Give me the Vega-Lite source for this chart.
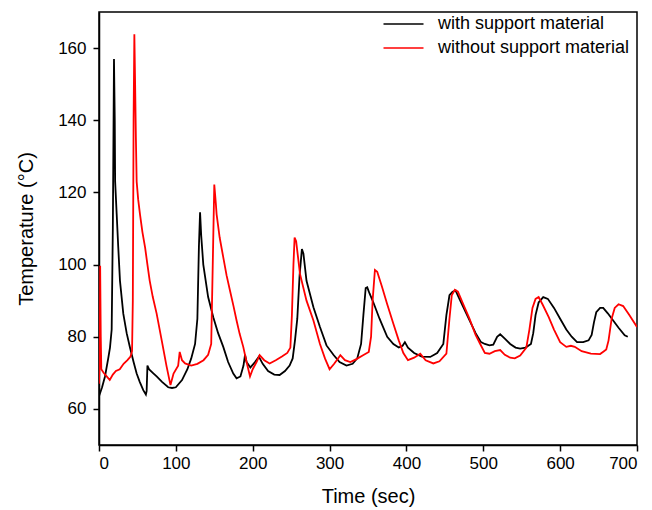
{
  "$schema": "https://vega.github.io/schema/vega-lite/v6.json",
  "width": 538,
  "height": 433,
  "autosize": "none",
  "padding": {"left": 99, "top": 12, "right": 15, "bottom": 65},
  "background": "white",
  "config": {
    "font": "Liberation Sans",
    "view": {"stroke": "black", "strokeWidth": 1.5},
    "axis": {"grid": false, "domainColor": "black", "domainWidth": 1.5, "tickColor": "black", "tickWidth": 1.5, "tickSize": 6, "labelFontSize": 17, "labelColor": "black", "titleFontSize": 20, "titleFontWeight": "normal", "titleColor": "black", "labelFont": "Liberation Sans", "titleFont": "Liberation Sans"}
  },
  "datasets": {
    "with": [
      {"t":0,"T":63.5},{"t":4,"T":66},{"t":7.8,"T":69},{"t":12,"T":74},{"t":14.3,"T":77},{"t":16.5,"T":82},{"t":18,"T":110},{"t":19.5,"T":157},{"t":20.5,"T":140},{"t":21,"T":123},{"t":23,"T":114},{"t":25,"T":105},{"t":27.3,"T":95.5},{"t":31.6,"T":86.4},{"t":36,"T":81},{"t":40.3,"T":77},{"t":45,"T":73},{"t":49,"T":69.8},{"t":53,"T":67.5},{"t":57.6,"T":65.2},{"t":61,"T":64},{"t":62,"T":65},{"t":63,"T":72},{"t":65,"T":71},{"t":70,"T":70},{"t":75,"T":69},{"t":82,"T":67.5},{"t":90,"T":66},{"t":95,"T":65.8},{"t":100,"T":66},{"t":108,"T":68},{"t":115,"T":71},{"t":120,"T":74},{"t":125,"T":78},{"t":128,"T":85},{"t":130,"T":105},{"t":131.5,"T":114.5},{"t":133,"T":108},{"t":135.7,"T":100},{"t":142,"T":91},{"t":148.7,"T":85.4},{"t":155,"T":81},{"t":161.7,"T":77.2},{"t":168,"T":73},{"t":174.7,"T":69.8},{"t":179,"T":68.5},{"t":184,"T":69},{"t":188,"T":72},{"t":190,"T":75},{"t":192,"T":73},{"t":197,"T":71.5},{"t":203,"T":73},{"t":208,"T":74.5},{"t":213,"T":72.5},{"t":220,"T":70.5},{"t":228,"T":69.5},{"t":235,"T":69.4},{"t":242,"T":70.5},{"t":248,"T":72},{"t":252,"T":74},{"t":255,"T":79},{"t":258,"T":85},{"t":261,"T":97},{"t":264,"T":104.3},{"t":266,"T":103},{"t":270,"T":95.5},{"t":279,"T":88.2},{"t":287.5,"T":82.7},{"t":296,"T":77.6},{"t":305,"T":75},{"t":313,"T":73},{"t":322,"T":72},{"t":330,"T":72.5},{"t":336,"T":74},{"t":341,"T":78},{"t":344,"T":86},{"t":347,"T":93.5},{"t":349,"T":93.7},{"t":352,"T":92},{"t":357,"T":89.5},{"t":365,"T":85},{"t":375,"T":80},{"t":383,"T":78},{"t":390,"T":77},{"t":395,"T":77.5},{"t":398,"T":78.5},{"t":402,"T":77},{"t":410,"T":75.5},{"t":420,"T":74.5},{"t":431,"T":74.4},{"t":440,"T":75.5},{"t":448,"T":78},{"t":452,"T":86},{"t":456,"T":91.5},{"t":460,"T":92.5},{"t":464,"T":92.8},{"t":470,"T":90},{"t":480,"T":85.5},{"t":490,"T":81},{"t":497,"T":78.5},{"t":502,"T":78},{"t":508,"T":77.6},{"t":513,"T":77.8},{"t":518,"T":80},{"t":522,"T":80.7},{"t":528,"T":79.5},{"t":535,"T":78},{"t":542,"T":77},{"t":548,"T":76.7},{"t":555,"T":77},{"t":562,"T":78},{"t":565,"T":81},{"t":568,"T":86},{"t":572,"T":89.5},{"t":578,"T":91},{"t":584,"T":90.5},{"t":592,"T":88},{"t":600,"T":85},{"t":608,"T":82},{"t":615,"T":80},{"t":622,"T":78.5},{"t":630,"T":78.5},{"t":637,"T":79},{"t":641,"T":80.5},{"t":644,"T":84},{"t":647,"T":86.8},{"t":652,"T":88},{"t":656,"T":88},{"t":662,"T":86.5},{"t":669,"T":84.5},{"t":676,"T":82.5},{"t":684,"T":80.4},{"t":688,"T":80}
    ],
    "without": [
      {"t":0,"T":67},{"t":1,"T":75},{"t":1.5,"T":99.7},{"t":2.3,"T":80},{"t":3,"T":71},{"t":6,"T":70},{"t":10,"T":69},{"t":14,"T":68},{"t":18,"T":69.5},{"t":22,"T":70.5},{"t":27,"T":71},{"t":32,"T":72.5},{"t":37,"T":73.5},{"t":41,"T":74.5},{"t":43,"T":76},{"t":44,"T":90},{"t":45,"T":140},{"t":46,"T":163.8},{"t":47,"T":150},{"t":48,"T":135},{"t":49,"T":123},{"t":51,"T":118},{"t":53.3,"T":114},{"t":56.5,"T":109},{"t":60,"T":104.7},{"t":63,"T":100},{"t":66,"T":95.5},{"t":70,"T":91},{"t":75,"T":86.4},{"t":81.6,"T":79},{"t":88,"T":71.7},{"t":93,"T":66.6},{"t":97,"T":69.8},{"t":103,"T":72},{"t":105,"T":75.8},{"t":108,"T":73.5},{"t":112,"T":72.6},{"t":120,"T":72},{"t":128,"T":72.5},{"t":136,"T":73.5},{"t":142,"T":75},{"t":146,"T":78},{"t":148,"T":100},{"t":150,"T":122.2},{"t":152,"T":117},{"t":153,"T":114},{"t":157,"T":107.5},{"t":161.7,"T":102},{"t":166,"T":97},{"t":170.4,"T":92.8},{"t":175,"T":88.5},{"t":179,"T":84.5},{"t":183,"T":80.8},{"t":187.7,"T":77.2},{"t":192,"T":73},{"t":196.5,"T":69},{"t":200,"T":71},{"t":205,"T":73},{"t":209,"T":74.9},{"t":215,"T":73.5},{"t":222,"T":72.6},{"t":230,"T":73.5},{"t":238,"T":74.5},{"t":245,"T":75.5},{"t":249,"T":77},{"t":251,"T":86},{"t":253,"T":100},{"t":254.5,"T":107.5},{"t":256.5,"T":106.5},{"t":261.5,"T":97.4},{"t":270,"T":90},{"t":279,"T":84.5},{"t":287.5,"T":78},{"t":294,"T":74},{"t":300,"T":71},{"t":306,"T":72.5},{"t":311,"T":74},{"t":314,"T":74.9},{"t":320,"T":73.5},{"t":327,"T":73},{"t":335,"T":73.8},{"t":343,"T":74.8},{"t":351,"T":75.8},{"t":354,"T":80},{"t":356,"T":90},{"t":359,"T":98.5},{"t":362,"T":98},{"t":368,"T":94},{"t":375,"T":89},{"t":383,"T":83.6},{"t":390,"T":79},{"t":396,"T":75.5},{"t":402,"T":73.5},{"t":410,"T":74.2},{"t":418,"T":75.3},{"t":425,"T":73.5},{"t":435,"T":72.6},{"t":443,"T":73.2},{"t":452,"T":75.3},{"t":456,"T":85},{"t":459,"T":91.5},{"t":463,"T":93},{"t":467,"T":92.5},{"t":474,"T":89},{"t":482,"T":85},{"t":490,"T":80.5},{"t":496,"T":78},{"t":502,"T":75.5},{"t":508,"T":75.3},{"t":515,"T":76},{"t":522,"T":76.3},{"t":528,"T":75},{"t":535,"T":74.2},{"t":541,"T":74},{"t":548,"T":74.8},{"t":556,"T":77},{"t":560,"T":82},{"t":564,"T":88},{"t":568,"T":90.5},{"t":572,"T":91},{"t":577,"T":89},{"t":585,"T":85.5},{"t":592,"T":82},{"t":600,"T":78.5},{"t":608,"T":77.2},{"t":614,"T":77.5},{"t":619,"T":77.2},{"t":628,"T":76},{"t":640,"T":75.3},{"t":652,"T":75.2},{"t":657,"T":76},{"t":660,"T":76.5},{"t":663,"T":79},{"t":667,"T":85},{"t":671,"T":88},{"t":676,"T":89},{"t":682,"T":88.5},{"t":690,"T":86},{"t":700,"T":82.7}
    ]
  },
  "encoding": {
    "x": {"field": "t", "type": "quantitative", "scale": {"domain": [0, 700], "nice": false, "zero": false}, "axis": {"values": [0,100,200,300,400,500,600,700], "title": "Time (sec)", "titlePadding": 15, "labelPadding": 4}},
    "y": {"field": "T", "type": "quantitative", "scale": {"domain": [50, 170], "nice": false, "zero": false}, "axis": {"values": [60,80,100,120,140,160], "title": "Temperature (°C)", "titlePadding": 21, "labelPadding": 7}},
    "color": {"datum": "with support material", "type": "nominal", "scale": {"domain": ["with support material", "without support material"], "range": ["black", "red"]}, "legend": {"title": null, "orient": "none", "legendX": 293.5, "legendY": 1, "padding": 0, "symbolType": "M-2,0H2", "symbolSize": 400, "symbolStrokeWidth": 1.5, "labelFontSize": 18, "labelColor": "black", "labelFont": "Liberation Sans", "labelOffset": 23.5, "labelLimit": 0, "rowPadding": 4}}
  },
  "layer": [
    {
      "data": {"name": "with"},
      "mark": {"type": "line", "strokeWidth": 1.8, "clip": true}
    },
    {
      "data": {"name": "without"},
      "mark": {"type": "line", "strokeWidth": 1.8, "clip": true},
      "encoding": {"color": {"datum": "without support material", "type": "nominal"}}
    }
  ]
}
